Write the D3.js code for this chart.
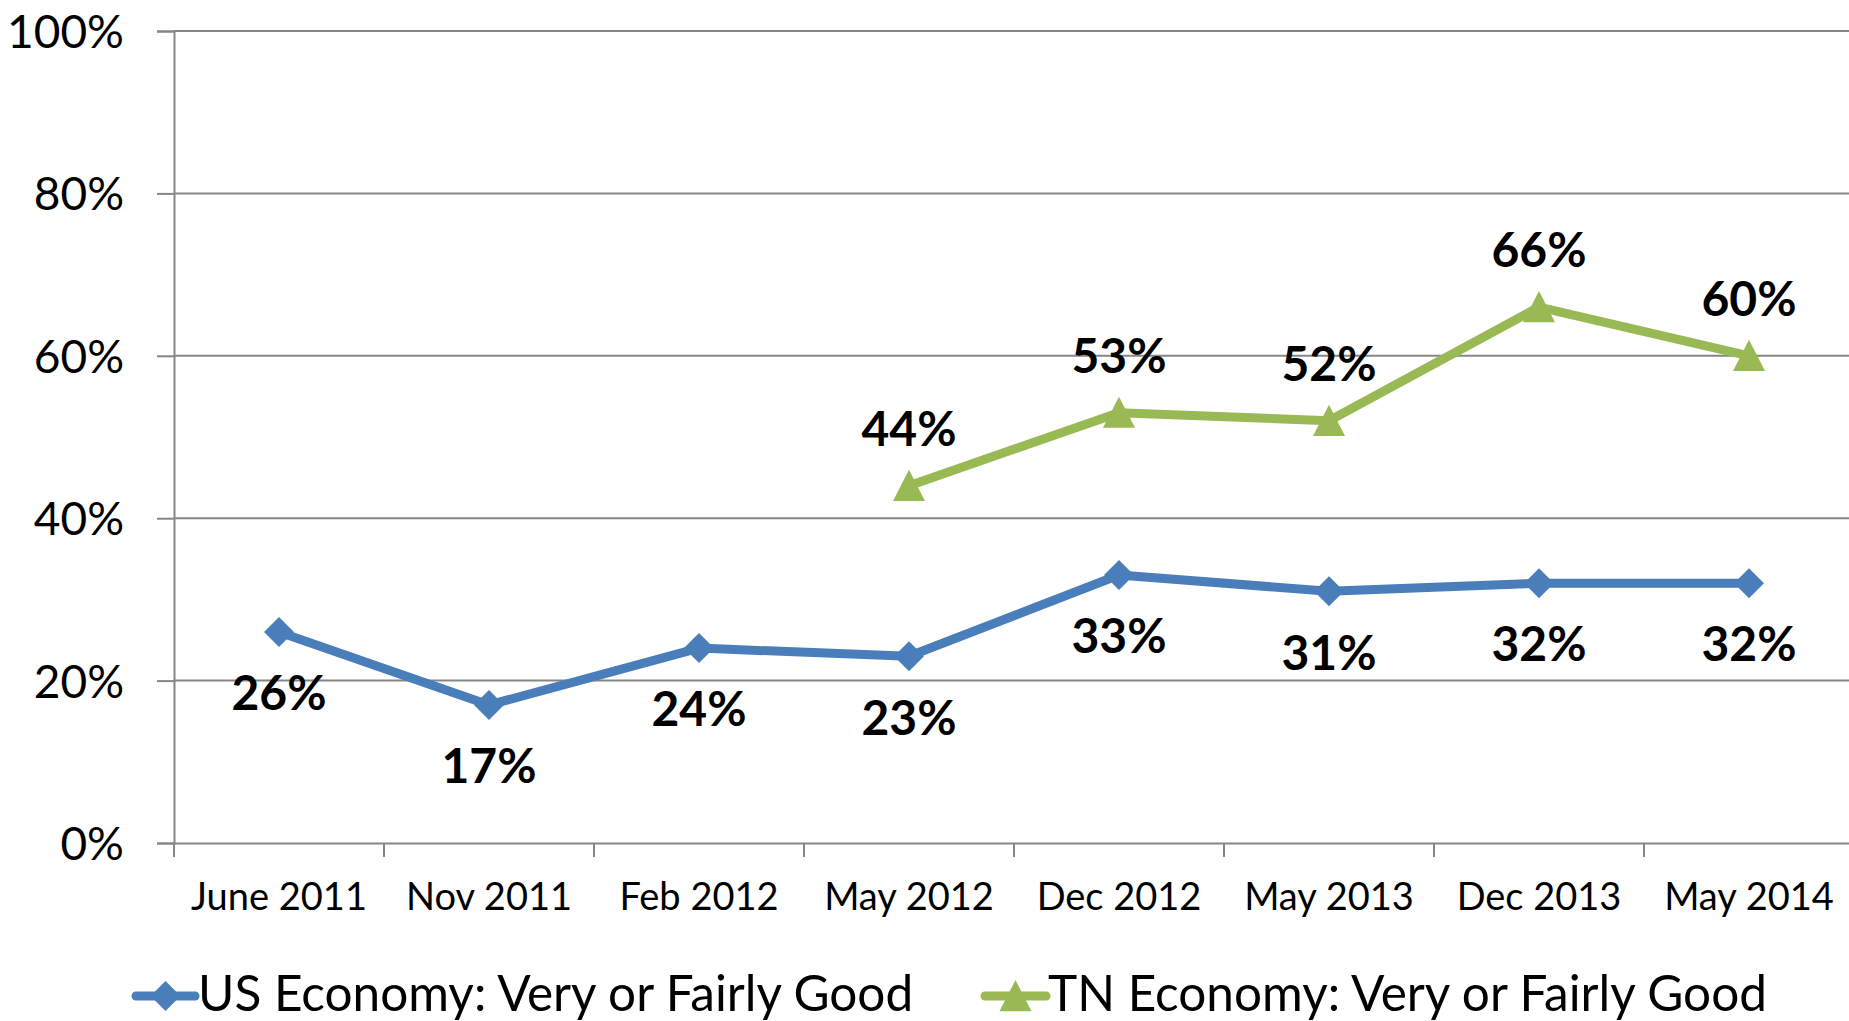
<!DOCTYPE html>
<html>
<head>
<meta charset="utf-8">
<script src="https://cdn.jsdelivr.net/npm/d3@7/dist/d3.min.js"></script>
<style>
  html, body { margin: 0; padding: 0; background: #fff; }
  svg { display: block; }
  text { font-family: Lato, "Open Sans", sans-serif; }
</style>
</head>
<body>
<svg id="chart" width="1849" height="1021"></svg>
<script>
const categories = ["June 2011", "Nov 2011", "Feb 2012", "May 2012", "Dec 2012", "May 2013", "Dec 2013", "May 2014"];
const usValues = [26, 17, 24, 23, 33, 31, 32, 32];
const tnValues = [null, null, null, 44, 53, 52, 66, 60];
const yTicks = [0, 20, 40, 60, 80, 100];
const seriesNames = ["US Economy: Very or Fairly Good", "TN Economy: Very or Fairly Good"];

const W = 1849, H = 1021;
const margin = { left: 174, right: -5, top: 31, bottom: 178 };
const svg = d3.select("#chart");

const x = d3.scaleBand().domain(categories).range([margin.left, W - margin.right]);
const y = d3.scaleLinear().domain([0, 100]).range([H - margin.bottom, margin.top]);

const gridColor = "#868686";

// gridlines
svg.append("g").selectAll("line").data(yTicks.filter(d => d > 0)).join("line")
  .attr("x1", margin.left).attr("x2", W)
  .attr("y1", d => y(d)).attr("y2", d => y(d))
  .attr("stroke", gridColor).attr("stroke-width", 2);

// y axis
const yAxis = svg.append("g").attr("transform", `translate(${margin.left},0)`)
  .call(d3.axisLeft(y).tickValues(yTicks).tickFormat(d => d + "%").tickSize(17).tickPadding(33));
yAxis.select(".domain").attr("stroke", gridColor).attr("stroke-width", 2);
yAxis.selectAll(".tick line").attr("stroke", gridColor).attr("stroke-width", 2);
yAxis.selectAll(".tick text").attr("font-size", 46).attr("fill", "#000")
  .attr("font-family", "Lato, sans-serif").attr("dy", "0.36em");

// x axis
const xAxis = svg.append("g").attr("transform", `translate(0,${y(0)})`)
  .call(d3.axisBottom(x).tickSize(0).tickPadding(40));
xAxis.select(".domain").attr("stroke", gridColor).attr("stroke-width", 2);
xAxis.selectAll(".tick text").attr("font-size", 38).attr("fill", "#000")
  .attr("font-family", "Lato, sans-serif");
// category boundary ticks
const bounds = categories.map(c => x(c)).concat([x(categories[categories.length - 1]) + x.bandwidth()]);
svg.append("g").selectAll("line").data(bounds).join("line")
  .attr("x1", d => d).attr("x2", d => d)
  .attr("y1", y(0)).attr("y2", y(0) + 14)
  .attr("stroke", gridColor).attr("stroke-width", 2);

const cx = c => x(c) + x.bandwidth() / 2;

const series = [
  { name: seriesNames[0], values: usValues, color: "#4A7EBB", marker: "diamond", labelPos: "below" },
  { name: seriesNames[1], values: tnValues, color: "#98B954", marker: "triangle", labelPos: "above" }
];

const diamond = s => `M0,${-s} L${s},0 L0,${s} L${-s},0 Z`;
const triangle = s => `M0,${-s} L${s},${s * 0.95} L${-s},${s * 0.95} Z`;

series.forEach(s => {
  const pts = categories.map((c, i) => ({ c, v: s.values[i] })).filter(d => d.v != null);
  const line = d3.line().x(d => cx(d.c)).y(d => y(d.v));
  svg.append("path").datum(pts).attr("d", line)
    .attr("fill", "none").attr("stroke", s.color).attr("stroke-width", 9)
    .attr("stroke-linejoin", "round").attr("stroke-linecap", "round");
  svg.append("g").selectAll("path").data(pts).join("path")
    .attr("transform", d => `translate(${cx(d.c)},${y(d.v)})`)
    .attr("d", s.marker === "diamond" ? diamond(15) : triangle(16))
    .attr("fill", s.color);
  svg.append("g").selectAll("text").data(pts).join("text")
    .attr("x", d => cx(d.c))
    .attr("y", d => y(d.v) + (s.labelPos === "below" ? 61 : -57))
    .attr("dy", "0.36em")
    .attr("text-anchor", "middle")
    .attr("font-size", 48).attr("font-weight", "bold").attr("fill", "#000")
    .text(d => d.v + "%");
});

// legend
const legendItems = [
  { name: seriesNames[0], color: "#4A7EBB", marker: "diamond", x0: 136, x1: 195, tx: 198 },
  { name: seriesNames[1], color: "#98B954", marker: "triangle", x0: 985, x1: 1046, tx: 1048 }
];
const ly = 996;
legendItems.forEach(l => {
  const g = svg.append("g");
  g.append("line").attr("x1", l.x0).attr("x2", l.x1).attr("y1", ly).attr("y2", ly)
    .attr("stroke", l.color).attr("stroke-width", 9).attr("stroke-linecap", "round");
  g.append("path").attr("transform", `translate(${(l.x0 + l.x1) / 2},${ly})`)
    .attr("d", l.marker === "diamond" ? diamond(15) : triangle(16)).attr("fill", l.color);
  g.append("text").attr("x", l.tx).attr("y", 1011).attr("font-size", 49.5).attr("fill", "#000")
    .text(l.name);
});
</script>
</body>
</html>
